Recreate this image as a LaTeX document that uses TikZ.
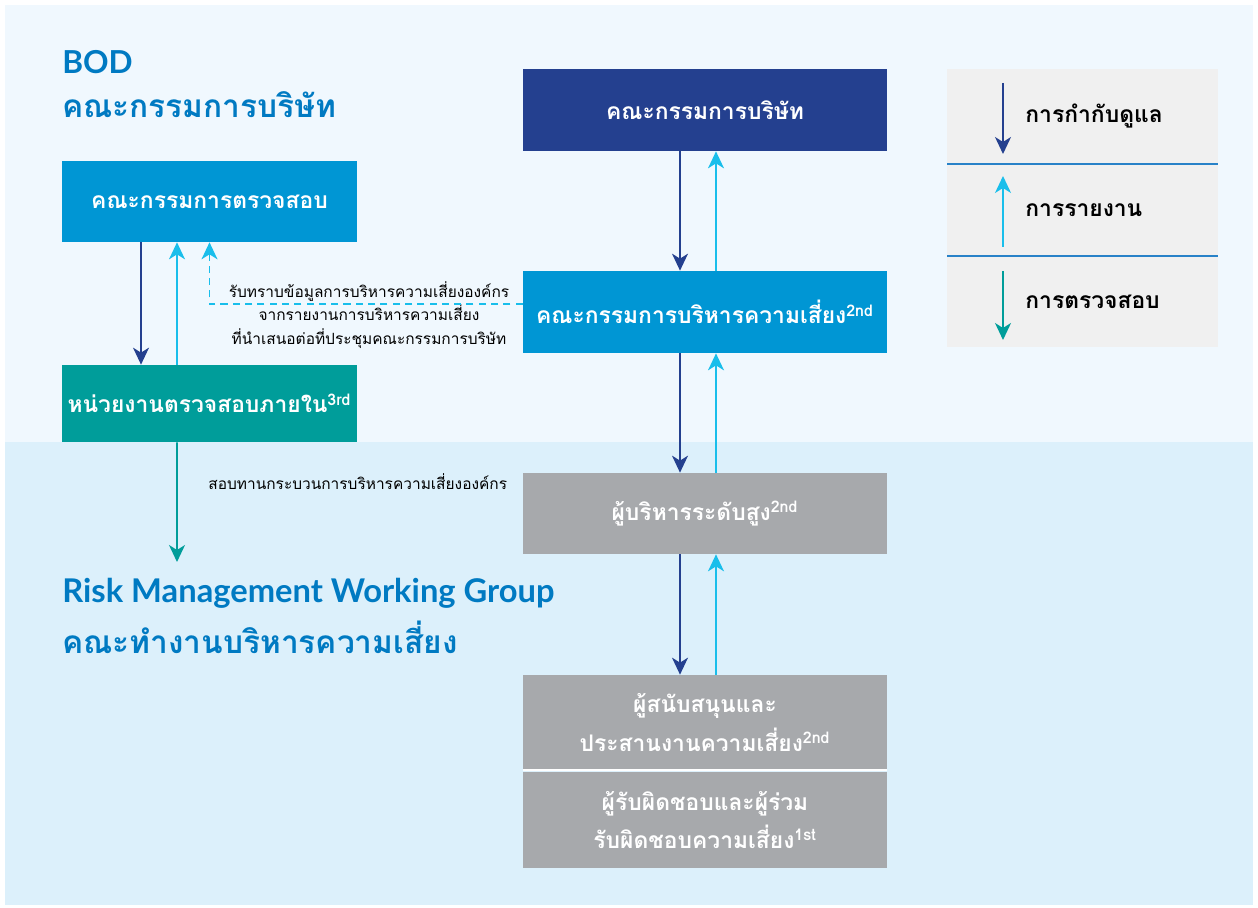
\documentclass[tikz,border=0pt]{standalone}
\usepackage{fontspec}
\setmainfont{Lato}
\newfontfamily\thaifont[Script=Thai]{Loma}
\usetikzlibrary{arrows.meta,positioning}
\definecolor{bgtop}{RGB}{240,248,254}
\definecolor{bgbot}{RGB}{220,240,251}
\definecolor{navy}{RGB}{36,64,143}
\definecolor{sky}{RGB}{0,150,212}
\definecolor{teal}{RGB}{0,157,154}
\definecolor{stone}{RGB}{167,169,172}
\definecolor{legendbg}{RGB}{240,240,240}
\definecolor{headblue}{RGB}{0,122,194}
\definecolor{upcyan}{RGB}{25,190,235}
\definecolor{rule}{RGB}{40,130,200}

\begin{document}
\begin{tikzpicture}[x=0.02cm,y=-0.02cm,
  every node/.append style={inner sep=0pt},
  govern/.style={draw=navy,line width=0.9pt,-{Stealth[length=0.34cm,width=0.32cm,inset=0.1cm]}},
  report/.style={draw=upcyan,line width=0.9pt,-{Stealth[length=0.34cm,width=0.32cm,inset=0.1cm]}},
  audit/.style={draw=teal,line width=0.9pt,-{Stealth[length=0.34cm,width=0.32cm,inset=0.1cm]}}]
  \tikzstyle{box} = [rectangle,minimum width=7.28cm,minimum height=1.64cm,text=white,font=\thaifont\bfseries\fontsize{13}{15.5}\selectfont,align=center]
  \tikzstyle{sidebox} = [box,minimum width=5.9cm]
  \tikzstyle{head} = [anchor=west,text=headblue,font=\bfseries\fontsize{18}{22}\selectfont]
  \tikzstyle{note} = [text=black,font=\thaifont\fontsize{8.8}{13.5}\selectfont,align=center]
  \tikzstyle{key} = [anchor=west,text=black,font=\thaifont\bfseries\fontsize{13}{15}\selectfont]
  \useasboundingbox (0,0) rectangle (1258,908);
  \fill[white] (0,0) rectangle (1258,908);
  \fill[bgtop] (5,5) rectangle (1253,442);
  \fill[bgbot] (5,442) rectangle (1253,905);
  \node (h_1) [head] at (62,62) {BOD};
  \node (h_2) [head] at (62,105) {\thaifont คณะกรรมการบริษัท};
  \node (h_3) [head,font=\bfseries\fontsize{18.6}{22}\selectfont] at (62,593) {Risk Management Working Group};
  \node (h_4) [head] at (62,637) {\thaifont คณะทำงานบริหารความเสี่ยง};
  \node (b_1) [box,fill=navy] at (705,110) {คณะกรรมการบริษัท};
  \node (b_2) [box,fill=sky,minimum height=1.64cm] at (705,312) {คณะกรรมการบริหารความเสี่ยง\textsuperscript{2nd}};
  \node (b_3) [box,fill=stone,minimum height=1.62cm] at (705,513.5) {ผู้บริหารระดับสูง\textsuperscript{2nd}};
  \node (b_4) [box,fill=stone,minimum height=1.9cm] at (705,722.5) {ผู้สนับสนุนและ\\[4pt]ประสานงานความเสี่ยง\textsuperscript{2nd}};
  \node (b_5) [box,fill=stone,minimum height=1.92cm] at (705,820) {ผู้รับผิดชอบและผู้ร่วม\\[4pt]รับผิดชอบความเสี่ยง\textsuperscript{1st}};
  \node (s_1) [sidebox,fill=sky,minimum height=1.62cm] at (209.5,201.5) {คณะกรรมการตรวจสอบ};
  \node (s_2) [sidebox,fill=teal,minimum height=1.54cm] at (209.5,403.5) {หน่วยงานตรวจสอบภายใน\textsuperscript{3rd}};
  \node (n_1) [note] at (369,315) {รับทราบข้อมูลการบริหารความเสี่ยงองค์กร\\จากรายงานการบริหารความเสี่ยง\\ที่นำเสนอต่อที่ประชุมคณะกรรมการบริษัท};
  \node (n_2) [note,anchor=west] at (208,482) {สอบทานกระบวนการบริหารความเสี่ยงองค์กร};
  \coordinate (c_1) at (177,562);
  \draw[govern] ([xshift=-0.5cm]b_1.south) -- ([xshift=-0.5cm]b_2.north);
  \draw[report] ([xshift=0.22cm]b_2.north) -- ([xshift=0.22cm]b_1.south);
  \draw[govern] ([xshift=-0.5cm]b_2.south) -- ([xshift=-0.5cm]b_3.north);
  \draw[report] ([xshift=0.22cm]b_3.north) -- ([xshift=0.22cm]b_2.south);
  \draw[govern] ([xshift=-0.5cm]b_3.south) -- ([xshift=-0.5cm]b_4.north);
  \draw[report] ([xshift=0.22cm]b_4.north) -- ([xshift=0.22cm]b_3.south);
  \draw[white,line width=1pt] (b_4.south west) -- (b_4.south east);
  \draw[govern] ([xshift=-1.37cm]s_1.south) -- ([xshift=-1.37cm]s_2.north);
  \draw[report] ([xshift=-0.65cm]s_2.north) -- ([xshift=-0.65cm]s_1.south);
  \draw[report,dashed,dash pattern=on 4pt off 3pt,line width=0.9pt] ([yshift=0.16cm]b_2.west) -| (s_1.south);
  \draw[audit] ([xshift=-0.65cm]s_2.south) -- (c_1);
  \fill[legendbg] (947,69) rectangle (1218,347);
  \draw[rule,line width=0.8pt] (947,164) -- (1218,164);
  \draw[rule,line width=0.8pt] (947,256) -- (1218,256);
  \coordinate (l_1) at (1003,83);
  \coordinate (l_2) at (1003,154);
  \coordinate (l_3) at (1003,247);
  \coordinate (l_4) at (1003,176);
  \coordinate (l_5) at (1003,271);
  \coordinate (l_6) at (1003,340);
  \draw[govern] (l_1) -- (l_2);
  \draw[report] (l_3) -- (l_4);
  \draw[audit] (l_5) -- (l_6);
  \node (k_1) [key] at (1025,116) {การกำกับดูแล};
  \node (k_2) [key] at (1025,210) {การรายงาน};
  \node (k_3) [key] at (1025,302) {การตรวจสอบ};
\end{tikzpicture}
\end{document}
